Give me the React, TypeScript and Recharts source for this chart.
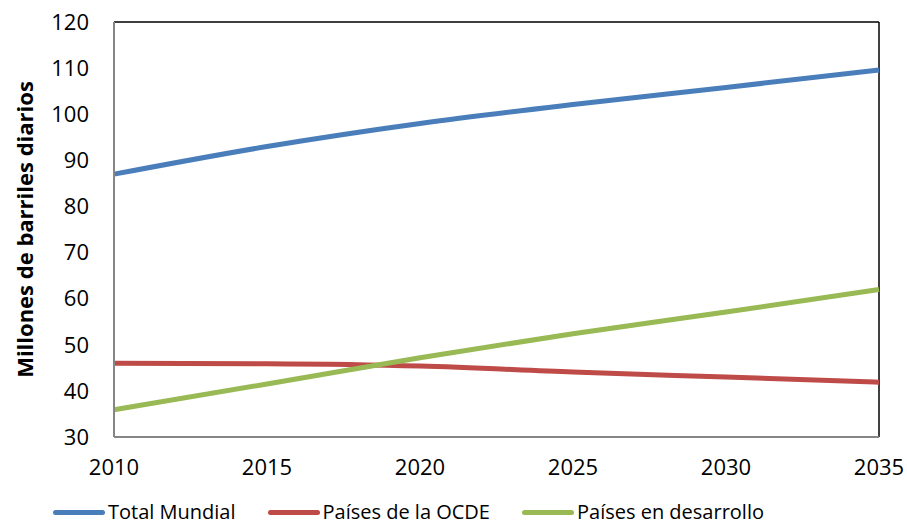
import { LineChart, Line, XAxis, YAxis, Legend, ReferenceLine } from 'recharts';

const years = [2010, 2015, 2020, 2025, 2030, 2035];
const totalMundial = [87, 93, 98, 102.1, 105.8, 109.6];
const paisesOcde = [46, 45.9, 45.4, 44.1, 43, 41.9];
const paisesDesarrollo = [35.9, 41.5, 47.2, 52.4, 57.1, 62];
const yTicks = [30, 40, 50, 60, 70, 80, 90, 100, 110, 120];

const FONT = '"Open Sans", "Noto Sans", sans-serif';

const series = [
  { key: 'total', name: 'Total Mundial', color: '#4A7EBB', values: totalMundial },
  { key: 'ocde', name: 'Países de la OCDE', color: '#BE4B48', values: paisesOcde },
  { key: 'desarrollo', name: 'Países en desarrollo', color: '#98B954', values: paisesDesarrollo },
];

const data = years.map((year, i) => {
  const row: any = { year };
  series.forEach((s) => {
    row[s.key] = s.values[i];
  });
  return row;
});

// Excel-style legend: thick line sample followed by the label, in series order
const renderLegend = () => (
  <div
    style={{
      display: 'flex',
      justifyContent: 'center',
      gap: 32,
      paddingRight: 62,
      fontFamily: FONT,
      fontSize: 20,
      lineHeight: '28px',
    }}
  >
    {series.map((s) => (
      <div key={s.key} style={{ display: 'flex', alignItems: 'center' }}>
        <div style={{ width: 52, height: 5, borderRadius: 3, background: s.color, marginRight: 3 }} />
        <span style={{ color: '#000' }}>{s.name}</span>
      </div>
    ))}
  </div>
);

export default function App() {
  return (
    <div style={{ position: 'absolute', left: 0, top: 0, background: '#fff' }}>
      <LineChart width={907} height={526} data={data} margin={{ top: 22, right: 28, bottom: 0, left: 0 }}>
        <XAxis
          dataKey="year"
          type="number"
          domain={[2010, 2035]}
          ticks={years}
          tickLine={false}
          tickMargin={16}
          height={61}
          axisLine={{ stroke: '#868686', strokeWidth: 2 }}
          tick={{ fill: '#000', fontSize: 22, fontFamily: FONT }}
        />
        <YAxis
          type="number"
          domain={[30, 120]}
          ticks={yTicks}
          interval={0}
          width={114}
          tickLine={false}
          tickMargin={19}
          axisLine={{ stroke: '#868686', strokeWidth: 2 }}
          tick={{ fill: '#000', fontSize: 22, fontFamily: FONT }}
          label={{
            value: 'Millones de barriles diarios',
            angle: -90,
            position: 'insideLeft',
            offset: 25,
            style: { textAnchor: 'middle', fontWeight: 'bold', fontSize: 22, fontFamily: FONT, fill: '#000' },
          }}
        />
        <ReferenceLine y={120} stroke="#000" strokeWidth={1.5} />
        <ReferenceLine x={2035} stroke="#000" strokeWidth={1.5} />
        {series.map((s) => (
          <Line
            key={s.key}
            type="monotone"
            dataKey={s.key}
            name={s.name}
            stroke={s.color}
            strokeWidth={5}
            dot={false}
            isAnimationActive={false}
          />
        ))}
        <Legend verticalAlign="bottom" content={renderLegend} />
      </LineChart>
    </div>
  );
}
